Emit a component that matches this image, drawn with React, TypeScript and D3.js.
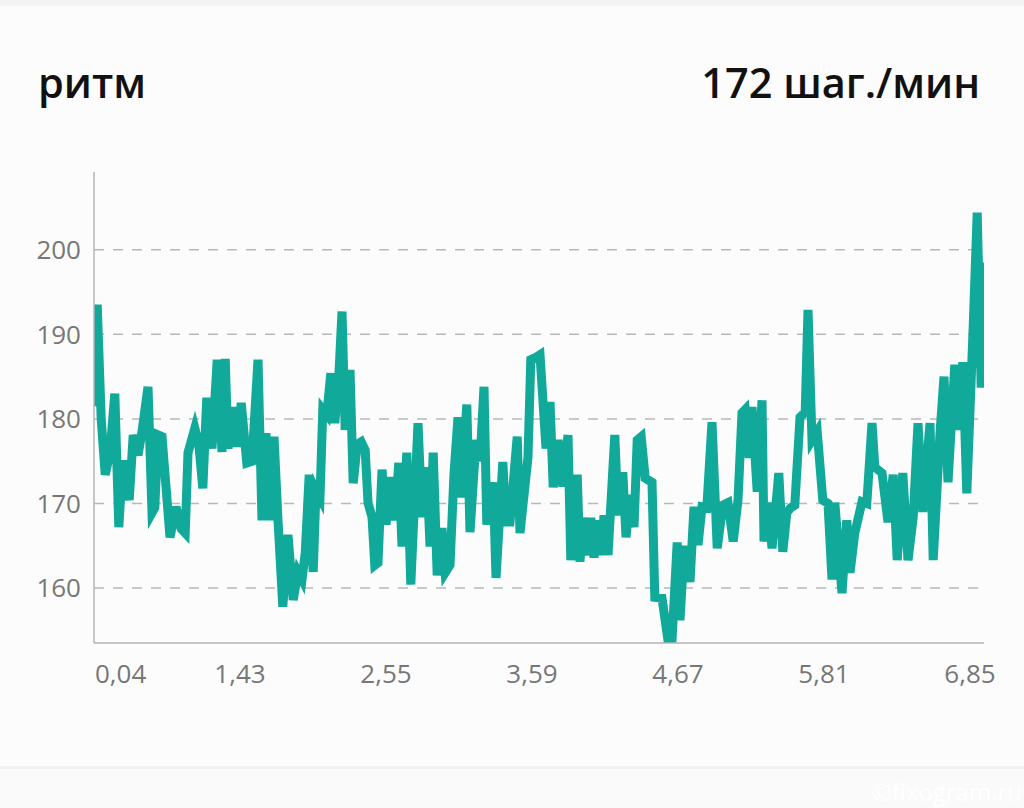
import React from "react";
import * as d3 from "d3";

// time (s) of each sample and cadence (steps/min)
const time: number[] = [
  0, 8, 18, 28, 40, 52, 62, 72, 88, 98, 110, 120, 135, 145, 152, 160, 170, 180, 190, 205,
  218, 228, 235, 252, 262, 272, 282, 295, 308, 320, 328, 335, 348, 358, 368, 382, 395, 410, 420, 430,
  440, 450, 460, 472, 485, 498, 510, 520, 528, 538, 548, 555, 565, 572, 582, 592, 602, 612, 620, 628,
  640, 648, 658, 668, 678, 685, 695, 702, 710, 720, 730, 742, 752, 762, 770, 782, 792, 810, 820, 832,
  840, 848, 858, 870, 878, 890, 900, 910, 918, 932, 940, 955, 965, 975, 982, 998, 1005, 1022, 1030, 1040,
  1058, 1065, 1085, 1092, 1105, 1115, 1130, 1140, 1148, 1160, 1172, 1185, 1192, 1208, 1215, 1222, 1235, 1242, 1250, 1260,
  1268, 1275, 1285, 1302, 1310, 1322, 1330, 1340, 1350, 1358, 1368, 1378, 1395, 1402, 1420, 1435, 1445, 1458, 1465, 1475,
  1485, 1490, 1500, 1510, 1520, 1532, 1545, 1558, 1572, 1585, 1598, 1610, 1620, 1628, 1638, 1645, 1658, 1670, 1675, 1685,
  1695, 1712, 1722, 1732, 1742, 1752, 1765, 1778, 1785, 1795, 1808, 1822, 1835, 1845, 1852, 1870, 1882, 1890, 1902, 1920,
  1932, 1945, 1952, 1970, 1985, 1998, 2008, 2022, 2035, 2048, 2060, 2072, 2090, 2098, 2115, 2125, 2135, 2152, 2160, 2172,
  2182, 2198, 2208, 2218, 2222,
];

const cadence: number[] = [
  181.5, 193.5, 180, 173.4, 176, 183, 167.2, 175.1, 170.4, 178.1, 175.7, 178.5, 183.8, 168.9, 169.5, 178.1, 177.9, 172, 166, 169.6,
  167, 166.5, 176, 178.9, 177, 171.8, 182.5, 176.5, 187, 176.1, 187.1, 176.5, 181.4, 176.7, 181.9, 174.8, 175, 187, 168, 178.3,
  168, 177.9, 168, 157.8, 166.3, 158.6, 161.9, 161, 164.1, 173.4, 161.9, 171.6, 170.7, 181.1, 180.5, 185.4, 179.5, 185, 192.7, 178.7,
  185.8, 172.4, 177, 177.3, 176.3, 170.1, 168.4, 162.7, 163, 174, 167.5, 173.1, 168, 174.8, 164.9, 176, 160.4, 179.5, 168.4, 174.3,
  164.9, 176, 161.5, 167.1, 161.8, 162.7, 173.5, 180.2, 170.7, 181.7, 166.6, 177.5, 175, 183.8, 167.5, 172.5, 161.2, 174.9, 167.8, 167.8,
  177.9, 166.5, 175.5, 187, 187.3, 187.6, 176.5, 182, 171.9, 177.5, 172, 178.1, 163.3, 173.4, 163.1, 168.3, 163.9, 168.3, 163.6, 168,
  163.9, 168.6, 163.9, 178.1, 168.6, 173.7, 166, 171, 167.2, 177.5, 177.9, 173, 172.5, 158.9, 158.8, 153.8, 153.8, 165.4, 156.2, 164.5,
  164.5, 160.7, 169.6, 165.1, 169.6, 169.5, 179.6, 164.7, 169.8, 170.1, 165.5, 170.4, 180.7, 181.1, 175.4, 181.4, 171.4, 182.2, 165.5, 170.1,
  164.7, 173.6, 164.3, 168.9, 169.5, 169.8, 180.2, 180.8, 192.9, 177.5, 178.5, 170.4, 170, 161, 170.1, 159.4, 168, 161.8, 166.5, 170.2,
  170, 179.5, 174.3, 173.6, 167.8, 173.4, 163.3, 173.6, 163.3, 168.4, 179.5, 169, 179.5, 163.3, 178.3, 185, 172.5, 186.4, 178.7, 186.7,
  171.2, 190.9, 204.4, 183.7, 198.5,
];

const xTickTimes: number[] = [0, 365, 730, 1095, 1460, 1825, 2190];
const xTickLabels: string[] = ["0,04", "1,43", "2,55", "3,59", "4,67", "5,81", "6,85"];
const yTicks: number[] = [160, 170, 180, 190, 200];

const title = "ритм";
const summary = "172 шаг./мин";

const W = 1024;
const H = 808;
const L = 94;
const R = 984;
const T = 172;
const B = 643;

export default function App() {
  const x = d3.scaleLinear().domain([0, 2225]).range([L, R]);
  const y = d3.scaleLinear().domain([153.5, 209.2]).range([B, T]);
  const pts = time.map((t, i) => [t, cadence[i]] as [number, number]);
  const line = d3
    .line<[number, number]>()
    .x((d) => x(d[0]))
    .y((d) => y(d[1]));
  const font = "'Open Sans', 'Noto Sans', sans-serif";
  return (
    <svg
      width={W}
      height={H}
      viewBox={`0 0 ${W} ${H}`}
      style={{ position: "fixed", left: 0, top: 0, display: "block" }}
    >
      <rect x={0} y={0} width={W} height={H} fill="#fcfcfc" />
      <rect x={0} y={0} width={W} height={6} fill="#f3f3f3" />
      <rect x={0} y={768} width={W} height={H - 768} fill="#fafafb" />
      <rect x={0} y={766} width={W} height={3} fill="#eef0f3" />
      <text x={38} y={98} fontFamily={font} fontWeight={600} fontSize={41.5} fill="#111">
        {title}
      </text>
      <text x={980} y={98} textAnchor="end" fontFamily={font} fontWeight={600} fontSize={41.5} fill="#111">
        {summary}
      </text>
      <defs>
        <clipPath id="plot">
          <rect x={L} y={T - 10} width={R - L} height={B - T + 10} />
        </clipPath>
      </defs>
      {yTicks.map((v) => (
        <g key={v}>
          <line
            x1={L}
            x2={980}
            y1={y(v)}
            y2={y(v)}
            stroke="#b8b8b8"
            strokeWidth={1.5}
            strokeDasharray="10,9"
          />
          <text
            x={81}
            y={y(v)}
            dy="0.36em"
            textAnchor="end"
            fontFamily={font}
            fontSize={26}
            fill="#777"
          >
            {v}
          </text>
        </g>
      ))}
      <path
        d={line(pts) || ""}
        fill="none"
        stroke="#10a99a"
        strokeWidth={9}
        clipPath="url(#plot)"
      />
      <line x1={L} x2={L} y1={T} y2={B} stroke="#b5b5b5" strokeWidth={1.5} />
      <line x1={L} x2={R} y1={B} y2={B} stroke="#b5b5b5" strokeWidth={1.5} />
      {xTickTimes.map((t, i) => (
        <text
          key={t}
          x={i === 0 ? L + 1 : x(t)}
          y={683}
          textAnchor={i === 0 ? "start" : "middle"}
          fontFamily={font}
          fontSize={26}
          fill="#777"
        >
          {xTickLabels[i]}
        </text>
      ))}
      <text x={1022} y={801} textAnchor="end" fontFamily={font} fontSize={24} fill="#ffffff">
        ©fixogram.ru
      </text>
    </svg>
  );
}
